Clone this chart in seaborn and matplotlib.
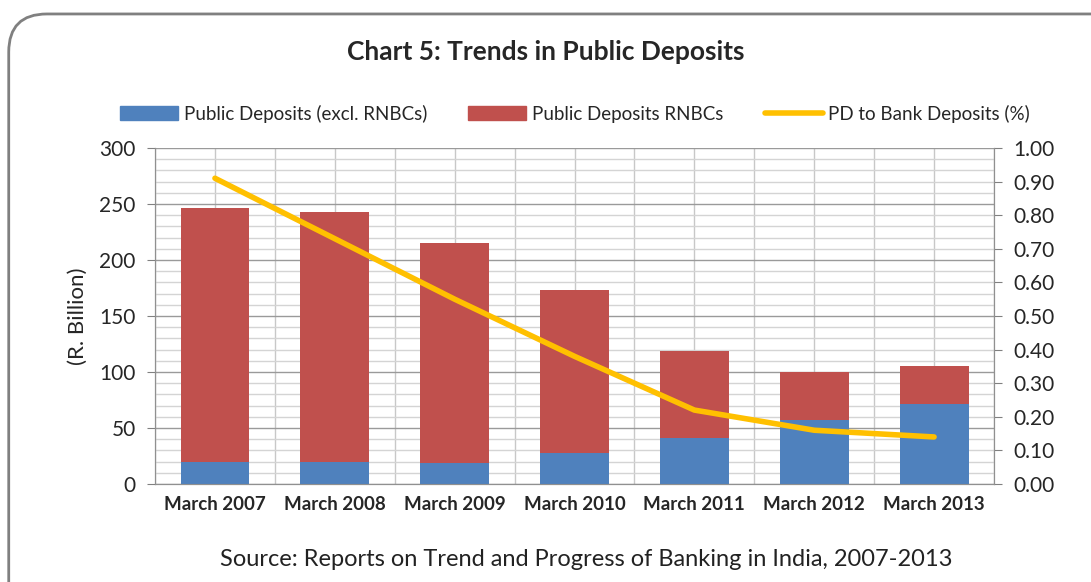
import numpy as np
import pandas as pd
import matplotlib
matplotlib.use('Agg')
import matplotlib.pyplot as plt
from matplotlib.patches import Patch, FancyBboxPatch
from matplotlib.lines import Line2D
from matplotlib.ticker import MultipleLocator, FormatStrFormatter
import seaborn as sns

# data
years = ['March 2007', 'March 2008', 'March 2009', 'March 2010',
         'March 2011', 'March 2012', 'March 2013']
pd_excl = [20, 20, 19, 28, 41, 57, 71]
pd_rnbc = [226, 223, 196, 145, 78, 43, 34]
pd_to_bank = [0.91, 0.73, 0.55, 0.38, 0.22, 0.16, 0.14]

blue = '#4F81BD'
red = '#C0504D'
yellow = '#FFC000'

sns.set_style('white')
plt.rcParams['font.family'] = ['Lato', 'DejaVu Sans']

df = pd.DataFrame({'year': years, 'excl': pd_excl, 'rnbc': pd_rnbc, 'ratio': pd_to_bank})
df['total'] = df['excl'] + df['rnbc']

fig = plt.figure(figsize=(10.91, 5.82), dpi=100)
ax = fig.add_axes([0.1421, 0.1684, 0.7690, 0.5773])

# stacked bars: full height in red, blue part drawn over it
sns.barplot(data=df, x='year', y='total', color=red, width=0.575, saturation=1, ax=ax, zorder=3)
sns.barplot(data=df, x='year', y='excl', color=blue, width=0.575, saturation=1, ax=ax, zorder=3)
for p in ax.patches:
    p.set_edgecolor('none')

ax.set_xlim(-0.5, 6.5)
ax.set_ylim(0, 300)
ax.yaxis.set_major_locator(MultipleLocator(50))
ax.yaxis.set_minor_locator(MultipleLocator(10))
ax.xaxis.set_minor_locator(MultipleLocator(0.5))
ax.grid(which='minor', axis='y', color='#d4d4d4', lw=1, zorder=0)
ax.grid(which='major', axis='y', color='#9a9a9a', lw=1, zorder=0)
ax.grid(which='minor', axis='x', color='#c8c8c8', lw=1, zorder=0)
ax.grid(which='major', axis='x', color='#c8c8c8', lw=1, zorder=0)
ax.set_axisbelow(True)
ax.set_xlabel('')
ax.set_ylabel('(R. Billion)', fontsize=16, labelpad=8)
ax.tick_params(axis='y', which='major', labelsize=15, length=6, color='#808080', left=True, pad=8)
ax.tick_params(axis='y', which='minor', length=0)
ax.tick_params(axis='x', which='both', length=0, pad=9)
for lab in ax.get_xticklabels():
    lab.set_fontsize(13.5)
    lab.set_fontweight('bold')
for s in ['left', 'bottom', 'top', 'right']:
    ax.spines[s].set_color('#909090')
ax.spines['top'].set_visible(False)

ax2 = ax.twinx()
sns.lineplot(x=np.arange(len(years)), y=pd_to_bank, color=yellow, lw=4, ax=ax2,
             solid_capstyle='round', zorder=5)
ax2.set_ylim(0, 1.0)
ax2.yaxis.set_major_locator(MultipleLocator(0.1))
ax2.yaxis.set_major_formatter(FormatStrFormatter('%.2f'))
ax2.tick_params(axis='y', labelsize=15, length=6, color='#808080', right=True, pad=8)
ax2.set_ylabel('')
for s in ['left', 'bottom', 'top', 'right']:
    ax2.spines[s].set_color('#909090')
ax2.spines['top'].set_visible(False)

fig.text(0.50, 0.910, 'Chart 5: Trends in Public Deposits', ha='center', va='center',
         fontsize=19, fontweight='bold')

handles = [Patch(color=blue), Patch(color=red), Line2D([0], [0], color=yellow, lw=4)]
labels = ['Public Deposits (excl. RNBCs)', 'Public Deposits RNBCs', 'PD to Bank Deposits (%)']
fig.legend(handles, labels, loc='center', bbox_to_anchor=(0.527, 0.805), ncol=3,
           frameon=False, fontsize=13.5, handlelength=3.1, handleheight=0.8,
           columnspacing=2.2, handletextpad=0.3)

fig.text(0.537, 0.038, 'Source: Reports on Trend and Progress of Banking in India, 2007-2013',
         ha='center', va='center', fontsize=17, color='#222222')

border = FancyBboxPatch((0.008, -0.1), 1.1, 1.076, transform=fig.transFigure,
                        boxstyle='round,pad=0,rounding_size=0.035', mutation_aspect=1.87,
                        fc='none', ec='#808080', lw=2, clip_on=False)
fig.patches.append(border)

fig.savefig('out.png', dpi=100)
